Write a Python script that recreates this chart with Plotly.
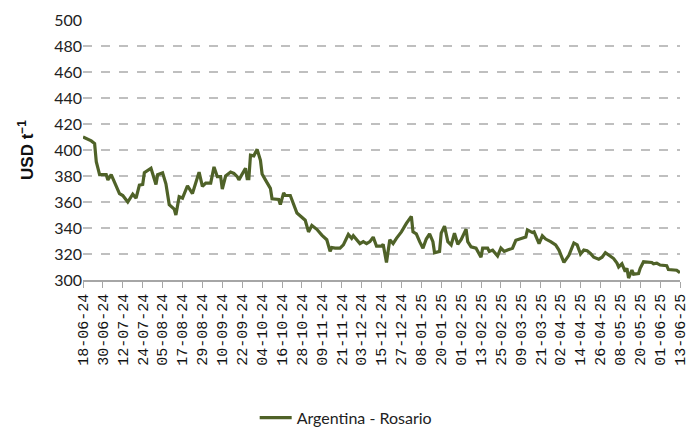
import plotly.graph_objects as go

dates = [
    "2024-06-18", "2024-06-23", "2024-06-25", "2024-06-26", "2024-06-27", "2024-06-28",
    "2024-07-02", "2024-07-03", "2024-07-05", "2024-07-07", "2024-07-10", "2024-07-12",
    "2024-07-15", "2024-07-18", "2024-07-20", "2024-07-22", "2024-07-24", "2024-07-25",
    "2024-07-27", "2024-07-29", "2024-08-01", "2024-08-02", "2024-08-05", "2024-08-07",
    "2024-08-09", "2024-08-12", "2024-08-13", "2024-08-15", "2024-08-17", "2024-08-20",
    "2024-08-23", "2024-08-25", "2024-08-27", "2024-08-29", "2024-08-31", "2024-09-03",
    "2024-09-05", "2024-09-07", "2024-09-09", "2024-09-10", "2024-09-12", "2024-09-15",
    "2024-09-17", "2024-09-19", "2024-09-20", "2024-09-24", "2024-09-25", "2024-09-26",
    "2024-09-27", "2024-09-29", "2024-10-01", "2024-10-03", "2024-10-04", "2024-10-06",
    "2024-10-09", "2024-10-10", "2024-10-14", "2024-10-15", "2024-10-17", "2024-10-18",
    "2024-10-21", "2024-10-25", "2024-10-27", "2024-10-30", "2024-11-01", "2024-11-03",
    "2024-11-06", "2024-11-09", "2024-11-12", "2024-11-14", "2024-11-15", "2024-11-17",
    "2024-11-20", "2024-11-22", "2024-11-25", "2024-11-27", "2024-11-28", "2024-11-30",
    "2024-12-02", "2024-12-04", "2024-12-06", "2024-12-08", "2024-12-10", "2024-12-12",
    "2024-12-15", "2024-12-16", "2024-12-18", "2024-12-20", "2024-12-22", "2024-12-24",
    "2024-12-27", "2024-12-30", "2025-01-02", "2025-01-03", "2025-01-05", "2025-01-07",
    "2025-01-09", "2025-01-11", "2025-01-13", "2025-01-15", "2025-01-16", "2025-01-19",
    "2025-01-20", "2025-01-22", "2025-01-24", "2025-01-26", "2025-01-28", "2025-01-30",
    "2025-02-01", "2025-02-04", "2025-02-05", "2025-02-07", "2025-02-10", "2025-02-13",
    "2025-02-14", "2025-02-17", "2025-02-18", "2025-02-20", "2025-02-23", "2025-02-25",
    "2025-02-27", "2025-03-01", "2025-03-04", "2025-03-06", "2025-03-09", "2025-03-12",
    "2025-03-13", "2025-03-16", "2025-03-17", "2025-03-20", "2025-03-22", "2025-03-24",
    "2025-03-27", "2025-03-30", "2025-04-01", "2025-04-04", "2025-04-07", "2025-04-09",
    "2025-04-10", "2025-04-12", "2025-04-14", "2025-04-16", "2025-04-18", "2025-04-20",
    "2025-04-22", "2025-04-25", "2025-04-27", "2025-04-29", "2025-05-01", "2025-05-04",
    "2025-05-06", "2025-05-07", "2025-05-09", "2025-05-11", "2025-05-12", "2025-05-13",
    "2025-05-15", "2025-05-16", "2025-05-19", "2025-05-20", "2025-05-22", "2025-05-25",
    "2025-05-27", "2025-05-28", "2025-05-30", "2025-06-01", "2025-06-05", "2025-06-06",
    "2025-06-09", "2025-06-11", "2025-06-13",
]

prices = [
    410, 407, 405, 391, 386, 381,
    381, 377, 381, 375.5, 366.5, 365,
    360, 366, 363, 373, 373.5, 382.5,
    384, 386, 373.5, 381, 382.5, 374,
    358, 354.5, 350, 364, 363, 372.5,
    366.5, 375.5, 383, 372, 374.5, 374.5,
    387, 379.5, 379.5, 370, 380, 383,
    382, 379.5, 377, 386, 378, 378,
    396, 395.5, 400.5, 392, 381.5, 377,
    370.5, 362.5, 362, 358, 367, 365,
    365, 351.5, 349, 346, 337, 342,
    339, 334.5, 331, 322, 325, 324.5,
    324.5, 327, 335, 332, 334, 330.5,
    328, 329.5, 328, 329.5, 333, 326,
    326, 327.5, 313.5, 331, 328, 332,
    337, 343.5, 349, 337, 335.5, 329.5,
    324.5, 331.5, 335.5, 329.5, 321, 322,
    336, 341.5, 329.5, 327, 336, 327.5,
    331, 339, 329.5, 325.5, 324.5, 317.5,
    324.5, 324.5, 322, 323, 318.5, 324.5,
    322, 323, 324.5, 330.5, 331.5, 333,
    338.5, 336.5, 337, 328, 334, 331.5,
    329.5, 327, 323, 313.5, 319, 324.5,
    328.5, 327, 320, 323, 322.5, 320.5,
    317.5, 316, 317.5, 321, 319, 316.5,
    313, 310, 312.5, 306.5, 309, 301.5,
    307.5, 304.5, 305, 309, 314, 313.5,
    313.5, 312.5, 313, 311.5, 311, 308,
    308, 307.5, 305.5,
]

series_name = "Argentina - Rosario"
y_title = "USD t<sup>−1</sup>"
x_start, x_end = "2024-06-18", "2025-06-13"
y_ticks = [300, 320, 340, 360, 380, 400, 420, 440, 460, 480, 500]

LINE = "#4F6228"
GRID = "#BFBFBF"
LABEL_FONT = "Lato, Open Sans, sans-serif"

fig = go.Figure()
fig.add_trace(go.Scatter(
    x=dates, y=prices, mode="lines", name=series_name,
    line=dict(color=LINE, width=3.2),
))

fig.update_layout(
    width=697, height=430,
    margin=dict(l=83, r=17, t=20, b=150, autoexpand=False),
    paper_bgcolor="white", plot_bgcolor="white",
    showlegend=True,
    legend=dict(orientation="h", x=0.44, xanchor="center", y=-0.53, yanchor="middle",
                font=dict(family=LABEL_FONT, size=16, color="#222"),
                itemwidth=32),
)
fig.update_xaxes(
    type="date", range=[x_start, x_end], automargin=False,
    tick0=x_start, dtick=12 * 86400000, tickformat="%d-%m-%y",
    tickangle=-90, ticks="outside", ticklen=6, tickcolor="#A6A6A6",
    showline=True, linecolor="#A6A6A6", linewidth=1.5,
    showgrid=False, zeroline=False,
    tickfont=dict(family="Liberation Mono, DejaVu Sans Mono, monospace", size=15, color="#111"),
)
fig.update_yaxes(
    range=[300, 500], tickvals=y_ticks, automargin=False,
    showgrid=True, gridcolor=GRID, griddash="dash", gridwidth=1.5,
    zeroline=False, showline=False, ticks="",
    tickfont=dict(family=LABEL_FONT, size=16, color="#222"),
    title=dict(text=y_title, font=dict(family="Liberation Sans, Arial, sans-serif", size=17, color="#111", weight="bold"), standoff=16),
)

fig.write_html(
    "out.html",
    config={"displayModeBar": False},
    post_script="document.body.style.margin='0';document.body.style.overflow='hidden';",
)
